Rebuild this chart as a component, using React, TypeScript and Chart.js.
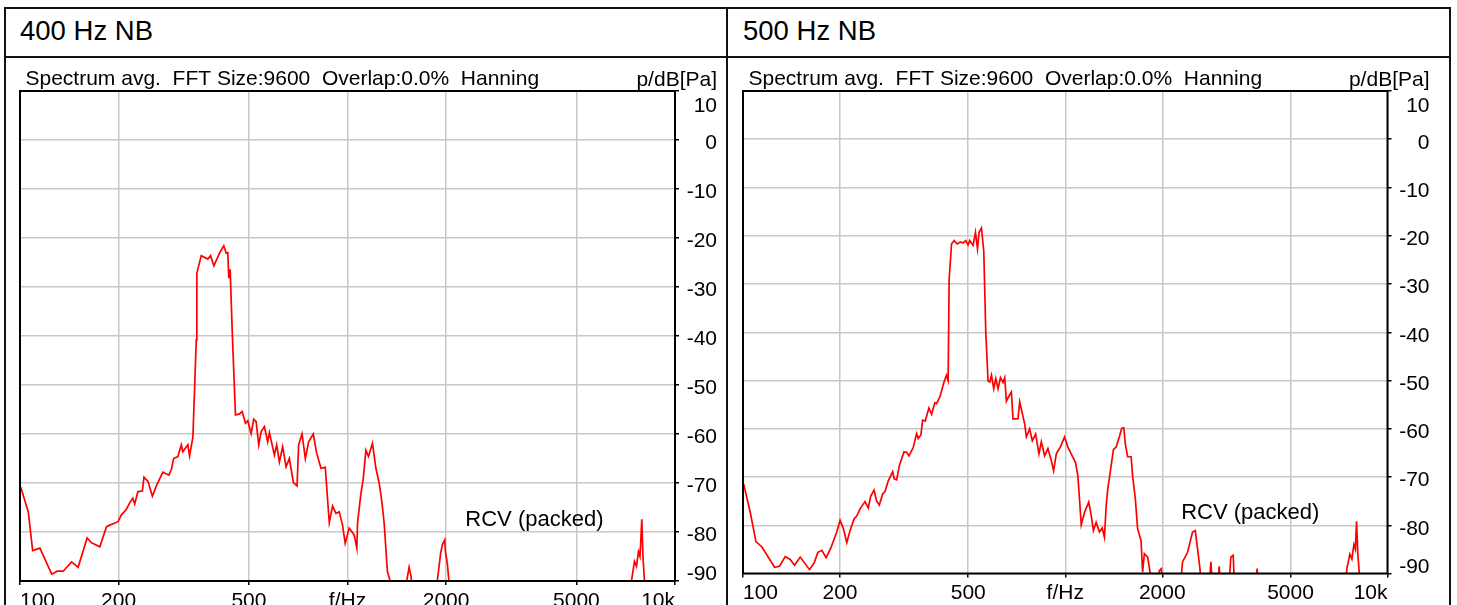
import React, { useEffect, useRef } from "react";
import { Chart, registerables } from "chart.js";

Chart.register(...registerables);

const FONT = '"Liberation Sans", Arial, Helvetica, sans-serif';

const xTicks = [100, 200, 500, 1000, 2000, 5000, 10000];
const xTickLabels = ["100", "200", "500", "f/Hz", "2000", "5000", "10k"];
const yTicks = [10, 0, -10, -20, -30, -40, -50, -60, -70, -80, -90];

const subtitle = "Spectrum avg.  FFT Size:9600  Overlap:0.0%  Hanning";
const unitLabel = "p/dB[Pa]";
const noteLabel = "RCV (packed)";

// 400 Hz NB spectrum (Hz / dB); -95 = below the plot floor
const freq400 = [
  100.5, 106, 109.3, 115, 125, 130, 135.5, 143.7, 150.5, 160.3, 165.4, 175.3, 183.7, 188, 199.3, 204,
  211, 216, 221, 224, 229, 236.5, 239, 246, 253.6, 260.8, 273, 285, 290, 294.5, 303.5, 310.8, 314.3,
  325.5, 329.4, 337.2, 341.2, 345.3, 346.7, 357.6, 374.7, 381.9, 390.8, 406.6, 419.1, 426.2, 431, 434,
  438.3, 444.5, 454.9, 467.9, 476.8, 488, 495.9, 507.9, 517.2, 526, 535.7, 544.8, 557.6, 570.6, 577.5,
  598.1, 607.8, 619.4, 633.9, 649.3, 664.4, 683.4, 701.4, 709.3, 726.4, 743.5, 760.9, 786.4, 804.9,
  829.9, 855.4, 879.7, 900.2, 922, 943.6, 965.6, 984, 1012, 1048, 1068, 1073, 1099, 1116, 1138, 1159,
  1192, 1221, 1250, 1273, 1294, 1324, 1347, 1388, 1489, 1542, 1563, 1596, 1850, 1880, 1925, 1950, 1981,
  1991, 2017, 2041, 2070, 7211, 7364, 7520, 7627, 7735, 7817, 7873, 7917, 7983, 8068, 8182, 9954,
];
const level400 = [
  -70.8, -75.9, -83.8, -83.3, -88.6, -88.0, -88.0, -86.1, -87.2, -81.2, -82.2, -83.0, -78.9, -78.6, -77.9, -76.5,
  -75.4, -74.1, -73.1, -74.3, -71.8, -71.6, -68.8, -69.7, -72.7, -70.6, -67.8, -68.4, -67.2, -65.0, -64.6, -62.2, -63.6,
  -62.2, -64.5, -60.6, -51.0, -40.8, -27.2, -23.6, -24.3, -23.6, -25.7, -23.1, -21.6, -23.1, -23.0, -28.2,
  -26.4, -38.8, -56.1, -55.9, -55.4, -57.8, -57.3, -59.9, -57.0, -57.5, -62.2, -59.5, -58.5, -61.6, -59.7,
  -64.3, -62.2, -65.7, -62.6, -66.7, -65.0, -69.9, -70.6, -62.2, -60.0, -65.0, -61.6, -60.0, -63.9,
  -67.0, -66.8, -78.1, -74.7, -76.2, -75.9, -78.6, -82.3, -79.2, -80.6, -83.3, -78.2, -72.1, -69.4, -63.3, -64.6,
  -61.9, -67.0, -70.1, -73.8, -78.2, -88.1, -89.8, -95, -93, -87.2, -89, -95, -95, -90, -84.3, -82.5, -81.6,
  -84, -86.4, -90, -95, -95, -90, -86, -87, -84, -85, -81, -77.4, -85, -90, -95, -95,
];

// 500 Hz NB spectrum (Hz / dB)
const freq500 = [
  100.4, 105.3, 109.7, 114.5, 125.3, 129.8, 135.2, 140.1, 144.5, 150.5, 160.8, 166.3, 170.7, 175.7, 181.1,
  187.3, 195.4, 200.1, 204.9, 209.9, 214.9, 221.1, 225.4, 230.8, 239.1, 244.8, 249, 255, 259.9, 264.8, 271.3,
  275.8, 282.4, 291.4, 294.7, 299.8, 305.4, 315.8, 321.9, 327.3, 337.5, 345.8, 349.8, 356.5, 360.9, 367.6,
  377.5, 384.8, 393.9, 398.7, 408.2, 420.1, 428.2, 433.1, 436.2, 443.7, 452, 461.8, 473.1, 481.9, 491.2,
  499.4, 505.4, 517.6, 526.5, 534.1, 540.2, 549.6, 558.7, 566.8, 576.1, 583.1, 590.2, 599.9, 608.6, 618.6,
  629.4, 641, 648.9, 656.7, 669.1, 680.6, 688.5, 713.5, 722.2, 748.2, 757.4, 775.4, 790.4, 809.2, 828.6,
  842.8, 862.9, 883.4, 905.2, 920.1, 937.9, 965.1, 995, 1019, 1051, 1076, 1094, 1107, 1121, 1148, 1183,
  1204, 1223, 1247, 1277, 1302, 1323, 1340, 1355, 1388, 1411, 1439, 1473, 1497, 1519, 1537, 1562, 1601,
  1619, 1650, 1677, 1719, 1738, 1760, 1802, 1833, 1864, 1931, 1959, 1987, 2015, 2259, 2312, 2397, 2483,
  2532, 2574, 2618, 2661, 2778, 2831, 2878, 2961, 3004, 3047, 3203, 3265, 3319, 3367, 3883, 3939, 3995,
  7323, 7482, 7644, 7754, 7865, 7949, 8017, 8091, 8179, 8326, 9954,
];
const level500 = [
  -71.4, -77.3, -83.4, -84.5, -88.7, -88.5, -86.5, -87.1, -88.3, -86.6, -89.2, -87.8, -85.6, -85.2, -86.7,
  -84.7, -81.4, -79.0, -80.7, -83.6, -81.1, -78.7, -78.1, -76.6, -75.1, -76.4, -74.0, -72.7, -75.0, -75.8, -73.5,
  -73.0, -70.8, -68.9, -70.4, -70.6, -67.7, -64.8, -64.9, -65.6, -63.9, -61.0, -62.0, -61.3, -58.2, -58.4,
  -55.7, -57.0, -54.6, -54.8, -53.4, -50.4, -48.9, -50.0, -29.1, -21.7, -21.0, -21.7, -21.3, -21.5, -21.0,
  -21.9, -21.0, -22.0, -19.3, -22.7, -19.3, -18.4, -23.2, -40.1, -50.1, -50.3, -48.9, -51.7, -49.6, -51.7,
  -49.4, -50.4, -49.4, -54.3, -53.2, -52.4, -58.0, -57.9, -54.4, -59.0, -61.7, -60.0, -62.5, -61.1, -65.2,
  -62.7, -65.6, -64.1, -66.6, -68.7, -65.2, -63.8, -61.7, -63.8, -65.6, -67.0, -69.7, -74.5, -79.9, -77.3, -75.2,
  -78.0, -81.1, -79.4, -81.4, -80.6, -82.5, -75.9, -72.5, -67.7, -64.3, -63.8, -61.6, -59.9, -59.8, -63.3, -65.8, -65.8,
  -69.9, -74.5, -80.7, -83.2, -89.7, -85.9, -86.6, -89.7, -95, -95, -89.4, -89, -95, -95, -87.6, -85.6, -81.4,
  -81.1, -84.9, -89.0, -95, -95, -87.6, -95, -95, -88.5, -95, -95, -86.6, -86.2, -95, -95, -89, -95,
  -95, -89, -86, -87, -84, -85, -79.2, -86, -90, -95, -95,
];

const CANVAS_H = 547;

type PanelSpec = {
  title: string;
  freq: number[];
  level: number[];
  left: number;
  width: number;
  plotLeft: number;
  plotRight: number;
  plotTop: number;
  plotBottom: number;
  titleX: number;
};

const panels: PanelSpec[] = [
  { title: "400 Hz NB", freq: freq400, level: level400, left: 6, width: 720, plotLeft: 14, plotRight: 669, plotTop: 33, plotBottom: 523, titleX: 20 },
  { title: "500 Hz NB", freq: freq500, level: level500, left: 728, width: 721, plotLeft: 15, plotRight: 659.5, plotTop: 33, plotBottom: 515.5, titleX: 743 },
];

const labelsPlugin = {
  id: "spectrumLabels",
  afterDatasetsDraw(chart: any) {
    const { ctx, chartArea: a } = chart;
    const xs = chart.scales.x;
    const ys = chart.scales.y;
    ctx.save();
    ctx.strokeStyle = "#000";
    ctx.lineWidth = 2;
    ctx.strokeRect(a.left, a.top, a.right - a.left, a.bottom - a.top);

    ctx.fillStyle = "#000";
    ctx.font = `21px ${FONT}`;
    ctx.textBaseline = "alphabetic";
    ctx.textAlign = "left";
    ctx.fillText(subtitle, a.left + 5.5, a.top - 6);
    ctx.textAlign = "right";
    ctx.fillText(unitLabel, a.right + 42, a.top - 5);

    // y labels; the end values are pulled inside the plot height
    ctx.textBaseline = "middle";
    yTicks.forEach((v) => {
      let y = ys.getPixelForValue(v) + 3.5;
      if (v === 10) y = a.top + 15;
      if (v === -90) y = a.bottom - 6.5;
      ctx.fillText(String(v), a.right + 42, y);
    });

    xTicks.forEach((v, i) => {
      ctx.textAlign = i === 0 ? "left" : i === xTicks.length - 1 ? "right" : "center";
      ctx.fillText(xTickLabels[i], xs.getPixelForValue(v), a.bottom + 20);
    });

    ctx.font = `22px ${FONT}`;
    ctx.textAlign = "left";
    ctx.textBaseline = "alphabetic";
    ctx.fillText(noteLabel, xs.getPixelForValue(2290), ys.getPixelForValue(-78.8));
    ctx.restore();
  },
};

function SpectrumPanel({ spec }: { spec: PanelSpec }) {
  const canvasRef = useRef<HTMLCanvasElement | null>(null);

  useEffect(() => {
    if (!canvasRef.current) return;
    const chart = new Chart(canvasRef.current, {
      type: "line",
      data: {
        datasets: [
          {
            data: spec.freq.map((f, i) => ({ x: f, y: spec.level[i] })),
            borderColor: "#ff0000",
            borderWidth: 1.7,
            pointRadius: 0,
            tension: 0,
            fill: false,
          },
        ],
      },
      options: {
        animation: false,
        responsive: true,
        maintainAspectRatio: false,
        events: [],
        layout: {
          autoPadding: false,
          padding: { left: spec.plotLeft, top: spec.plotTop, right: 0, bottom: 0 },
        },
        plugins: { legend: { display: false }, tooltip: { enabled: false }, title: { display: false } },
        scales: {
          x: {
            type: "logarithmic",
            position: "bottom",
            min: 100,
            max: 10000,
            afterBuildTicks: (s: any) => {
              s.ticks = xTicks.map((v) => ({ value: v }));
            },
            afterFit: (s: any) => {
              s.height = CANVAS_H - spec.plotBottom;
            },
            ticks: { display: false },
            grid: { color: "#c8c8c8", lineWidth: 1.5, tickLength: 4, tickColor: "#000" },
            border: { display: false },
          },
          y: {
            type: "linear",
            position: "right",
            min: -90,
            max: 10,
            afterBuildTicks: (s: any) => {
              s.ticks = yTicks.map((v) => ({ value: v }));
            },
            afterFit: (s: any) => {
              s.width = spec.width - spec.plotRight;
            },
            ticks: { display: false },
            grid: { color: "#c8c8c8", lineWidth: 1.5, tickLength: 4, tickColor: "#000" },
            border: { display: false },
          },
        },
      } as any,
      plugins: [labelsPlugin],
    });
    return () => chart.destroy();
  }, [spec]);

  return (
    <div style={{ position: "absolute", left: spec.left, top: 58, width: spec.width, height: CANVAS_H }}>
      <canvas ref={canvasRef} />
    </div>
  );
}

const line = (left: number, top: number, width: number, height: number) => (
  <div style={{ position: "absolute", left, top, width, height, background: "#111" }} />
);

export default function App() {
  return (
    <div
      style={{
        position: "absolute",
        left: 0,
        top: 0,
        width: 1457,
        height: 605,
        overflow: "hidden",
        background: "#fff",
        fontFamily: FONT,
      }}
    >
      {panels.map((p) => (
        <SpectrumPanel key={p.title} spec={p} />
      ))}
      {panels.map((p) => (
        <div
          key={p.title + "-t"}
          style={{ position: "absolute", left: p.titleX, top: 17, fontSize: 27.5, lineHeight: "27px", color: "#000" }}
        >
          {p.title}
        </div>
      ))}
      {line(4, 7, 1447, 2)}
      {line(4, 56, 1447, 2)}
      {line(4, 7, 2, 620)}
      {line(726, 7, 2, 620)}
      {line(1449, 7, 2, 620)}
    </div>
  );
}
